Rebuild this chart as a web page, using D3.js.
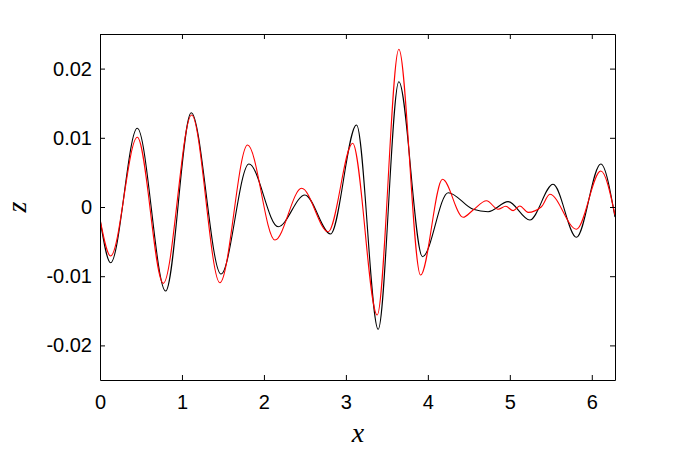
<!DOCTYPE html>
<html><head><meta charset="utf-8">
<script src="https://cdn.jsdelivr.net/npm/d3@7"></script>
<style>body{margin:0;background:#fff}svg{display:block}</style>
</head><body>
<script>
// Data (extrema and key points)
const blackX = [0,0.130,0.455,0.801,1.113,1.476,1.817,2.174,2.500,2.813,3.130,3.394,3.646,3.935,4.248,4.552,4.735,4.979,5.244,5.528,5.813,6.110,6.283];
const blackZ = [-0.0018,-0.00805,0.01137,-0.01214,0.01363,-0.00968,0.00621,-0.00285,0.00173,-0.00390,0.01185,-0.01767,0.01811,-0.00718,0.00207,-0.00033,-0.00068,0.00077,-0.00188,0.00328,-0.00438,0.00621,-0.00145];
const redX = [0,0.130,0.455,0.772,1.118,1.463,1.801,2.134,2.460,2.784,3.082,3.382,3.646,3.911,4.179,4.430,4.552,4.716,4.857,4.950,5.040,5.122,5.223,5.386,5.488,5.813,6.110,6.283];
const redZ = [-0.0017,-0.00708,0.01007,-0.01103,0.01329,-0.01094,0.00896,-0.00477,0.00270,-0.00357,0.00921,-0.01561,0.02279,-0.00983,0.00400,-0.00149,-0.00043,0.00091,-0.00033,0.00010,-0.00053,0.00014,-0.00077,0.00004,0.00184,-0.00322,0.00520,-0.00116];
const xTicks = [0,1,2,3,4,5,6];
const yTicks = [-0.02,-0.01,0,0.01,0.02];
const yTickLabels = ["-0.02","-0.01","0","0.01","0.02"];

const W = 680, H = 454;
const L = 100, R = 615, T = 34, B = 380;
const svg = d3.select("body").append("svg").attr("width", W).attr("height", H);
const x = d3.scaleLinear().domain([0, 2*Math.PI]).range([L, R]);
const y = d3.scaleLinear().domain([-0.025, 0.025]).range([B, T]);
const font = "'Liberation Sans', Arial, Helvetica, sans-serif";

const clip = svg.append("clipPath").attr("id","c").append("rect")
  .attr("x", L).attr("y", T).attr("width", R-L).attr("height", B-T);

const line = d3.line().x(d => x(d[0])).y(d => y(d[1])).curve(d3.curveMonotoneX);
const g = svg.append("g").attr("clip-path","url(#c)");
g.append("path").datum(blackX.map((v,i)=>[v,blackZ[i]]))
  .attr("d", line).attr("fill","none").attr("stroke","#000").attr("stroke-width",1.1);
g.append("path").datum(redX.map((v,i)=>[v,redZ[i]]))
  .attr("d", line).attr("fill","none").attr("stroke","#ff0000").attr("stroke-width",1.1);

// Axes (inside ticks, on all four sides)
const tk = 5;
const axB = svg.append("g").attr("transform",`translate(0,${B})`)
  .call(d3.axisBottom(x).tickValues(xTicks).tickSizeInner(-tk).tickSizeOuter(0).tickPadding(15).tickFormat(d3.format("d")));
const axT = svg.append("g").attr("transform",`translate(0,${T})`)
  .call(d3.axisTop(x).tickValues(xTicks).tickSizeInner(-tk).tickSizeOuter(0).tickFormat(""));
const axL = svg.append("g").attr("transform",`translate(${L},0)`)
  .call(d3.axisLeft(y).tickValues(yTicks).tickSizeInner(-tk).tickSizeOuter(0).tickPadding(8).tickFormat((d,i)=>yTickLabels[i]));
const axR = svg.append("g").attr("transform",`translate(${R},0)`)
  .call(d3.axisRight(y).tickValues(yTicks).tickSizeInner(-tk).tickSizeOuter(0).tickFormat(""));
[axB,axT,axL,axR].forEach(a=>{
  a.selectAll("path.domain").attr("stroke","#000").attr("stroke-width",1);
  a.selectAll(".tick line").attr("stroke","#000").attr("stroke-width",1);
  a.selectAll("text").attr("fill","#000").style("font-family",font).style("font-size","20px");
});
axB.selectAll("text").attr("dy","0.71em");

svg.append("text").attr("x", 358).attr("y", 442).attr("text-anchor","middle")
  .style("font-family","'Liberation Serif','Times New Roman',serif").style("font-style","italic").style("font-size","28px")
  .text("x");
svg.append("text").attr("transform","translate(26,207) rotate(-90)").attr("text-anchor","middle")
  .style("font-family","'Liberation Serif','Times New Roman',serif").style("font-style","italic").style("font-size","28px")
  .text("z");
</script>
</body></html>
